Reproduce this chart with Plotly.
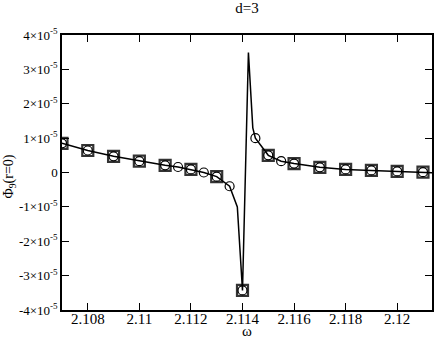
import plotly.graph_objects as go

# curve through all computed points (line only)
w_line = [2.107, 2.108, 2.109, 2.110, 2.111, 2.1115, 2.112, 2.1125, 2.113, 2.1135,
          2.1138, 2.114, 2.11423, 2.1144, 2.1145, 2.115, 2.1155, 2.116, 2.117,
          2.118, 2.119, 2.120, 2.121, 2.122]
phi_line = [0.85, 0.64, 0.47, 0.33, 0.21, 0.16, 0.09, 0.0, -0.12, -0.4,
            -1.0, -3.43, 3.49, 1.3, 1.0, 0.5, 0.33, 0.26, 0.15,
            0.09, 0.06, 0.03, 0.01, -0.03]

# circles
w_circ = [2.107, 2.108, 2.109, 2.110, 2.111, 2.1115, 2.112, 2.1125, 2.113, 2.1135,
          2.114, 2.1145, 2.115, 2.1155, 2.116, 2.117, 2.118, 2.119, 2.120, 2.121]
phi_circ = [0.85, 0.64, 0.47, 0.33, 0.21, 0.16, 0.09, 0.0, -0.12, -0.4,
            -3.43, 1.0, 0.5, 0.33, 0.26, 0.15, 0.09, 0.06, 0.03, 0.01]

# squares
w_sq = [2.107, 2.108, 2.109, 2.110, 2.111, 2.112, 2.113, 2.114, 2.115, 2.116,
        2.117, 2.118, 2.119, 2.120, 2.121]
phi_sq = [0.85, 0.64, 0.47, 0.33, 0.21, 0.09, -0.12, -3.43, 0.5, 0.26,
          0.15, 0.09, 0.06, 0.03, 0.01]

scale = 1e-5
ytick_vals = [-4, -3, -2, -1, 0, 1, 2, 3, 4]
ytick_text = ['%d×10<sup>-5</sup>' % v if v != 0 else '0' for v in ytick_vals]
xtick_vals = [2.108, 2.110, 2.112, 2.114, 2.116, 2.118, 2.120]
xtick_text = ['2.108', '2.11', '2.112', '2.114', '2.116', '2.118', '2.12']

serif = 'Liberation Serif'

fig = go.Figure()
fig.add_trace(go.Scatter(x=w_sq, y=[v * scale for v in phi_sq], mode='markers',
                         marker=dict(symbol='square-open', size=11, color='#333333',
                                     line=dict(width=2.2, color='#333333'))))
fig.add_trace(go.Scatter(x=w_line, y=[v * scale for v in phi_line], mode='lines',
                         line=dict(color='black', width=1.5)))
fig.add_trace(go.Scatter(x=w_circ, y=[v * scale for v in phi_circ], mode='markers',
                         marker=dict(symbol='circle-open', size=9, color='black',
                                     line=dict(width=1.2, color='black'))))

fig.update_layout(
    width=436, height=337,
    margin=dict(l=62, r=2, t=35, b=27),
    paper_bgcolor='white', plot_bgcolor='white',
    showlegend=False,
    font=dict(family=serif, size=15, color='black'),
    title=dict(text='d=3', xref='paper', x=0.5, xanchor='center', y=0.976, yanchor='middle',
               font=dict(family=serif, size=15)),
    annotations=[
        dict(text='ω', xref='paper', yref='paper', x=0.5, y=-0.077,
             xanchor='center', yanchor='middle', showarrow=False,
             font=dict(family=serif, size=15)),
        dict(text='Φ<sub>9</sub>(r=0)', xref='paper', yref='paper', x=-0.142, y=0.487,
             xanchor='center', yanchor='middle', showarrow=False, textangle=-90,
             font=dict(family=serif, size=14)),
    ],
)
fig.update_xaxes(range=[2.107, 2.12135], tickvals=xtick_vals, ticktext=xtick_text,
                 ticks='inside', ticklen=7, tickwidth=1.2, tickcolor='black',
                 showline=True, linecolor='black', linewidth=1.5, mirror='allticks',
                 showgrid=False, zeroline=False, tickfont=dict(family=serif, size=15),
                 ticklabelstandoff=-6)
fig.update_yaxes(range=[-4e-5, 4e-5], tickvals=[v * scale for v in ytick_vals],
                 ticktext=ytick_text,
                 ticks='inside', ticklen=7, tickwidth=1.2, tickcolor='black',
                 showline=True, linecolor='black', linewidth=1.5, mirror='allticks',
                 showgrid=False, zeroline=False, tickfont=dict(family=serif, size=13))

fig.write_html("out.html", config={'displayModeBar': False},
               post_script="document.body.style.margin='0';")
